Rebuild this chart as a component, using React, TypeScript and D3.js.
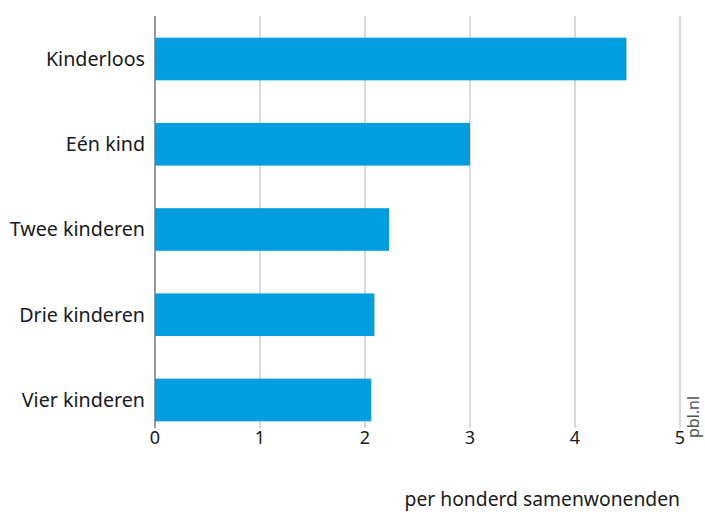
import React from "react";
import * as d3 from "d3";

const categories = ["Kinderloos", "Eén kind", "Twee kinderen", "Drie kinderen", "Vier kinderen"];
const values = [4.49, 3.0, 2.23, 2.09, 2.06];
const xTicks = [0, 1, 2, 3, 4, 5];
const xTitle = "per honderd samenwonenden";
const source = "pbl.nl";

const W = 705;
const H = 514;
const FONT = "'Noto Sans', 'Open Sans', sans-serif";

export default function App() {
  const x = d3.scaleLinear().domain([0, 5]).range([155, 680]);
  const y = d3
    .scaleBand<string>()
    .domain(categories)
    .range([16.4, 442.6])
    .paddingInner(0.5)
    .paddingOuter(0.25);
  const gridTop = 16;
  const gridBottom = 428;

  return (
    <div style={{ position: "absolute", left: 0, top: 0 }}>
      <svg width={W} height={H} style={{ display: "block" }} fontFamily={FONT}>
        <rect width={W} height={H} fill="#fff" />
        {xTicks.map((t) =>
          t === 0 ? null : (
            <line key={"g" + t} x1={x(t)} x2={x(t)} y1={gridTop} y2={gridBottom} stroke="#cccccc" strokeWidth={1.5} />
          )
        )}
        {categories.map((c, i) => (
          <rect key={c} x={x(0)} y={y(c)} width={x(values[i]) - x(0)} height={y.bandwidth()} fill="#009ee0" />
        ))}
        <line x1={x(0)} x2={x(0)} y1={gridTop} y2={gridBottom} stroke="#777777" strokeWidth={1.5} />
        {categories.map((c) => (
          <text key={"l" + c} x={145} y={(y(c) as number) + y.bandwidth() / 2} dy="0.35em" textAnchor="end" fontSize={19.7} fill="#1a1a1a">
            {c}
          </text>
        ))}
        {xTicks.map((t) => (
          <text key={"t" + t} x={x(t)} y={438} dy="0.35em" textAnchor="middle" fontSize={18} fill="#1a1a1a">
            {t}
          </text>
        ))}
        <text x={680} y={506} textAnchor="end" fontSize={19.3} fill="#1a1a1a">
          {xTitle}
        </text>
        <text transform={`translate(699,438) rotate(-90)`} textAnchor="start" fontSize={16} fill="#555555">
          {source}
        </text>
      </svg>
    </div>
  );
}
